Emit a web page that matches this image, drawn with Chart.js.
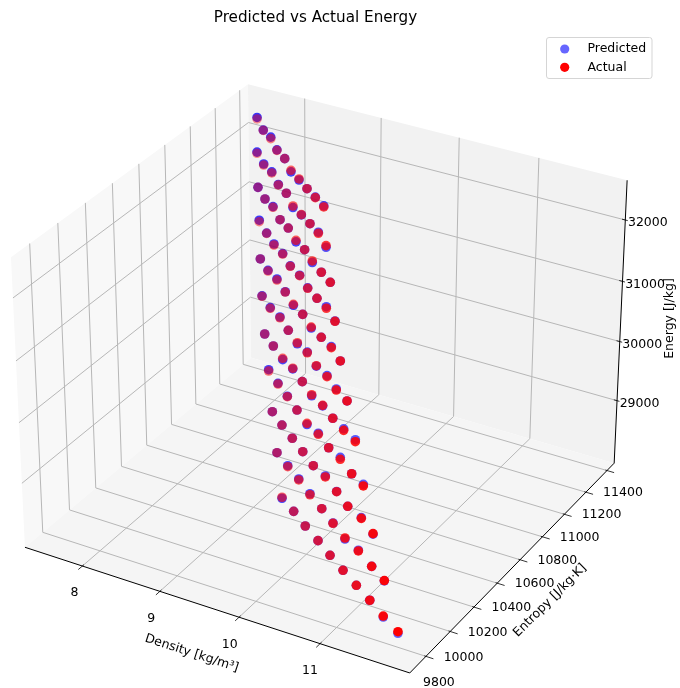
<!DOCTYPE html>
<html>
<head>
<meta charset="utf-8">
<title>Predicted vs Actual Energy</title>
<script src="https://cdn.jsdelivr.net/npm/chart.js@4"></script>
<style>
    html, body { margin: 0; padding: 0; background: #fff; }
    canvas { display: block; }
</style>
</head>
<body>
<canvas id="energyChart" width="680" height="688"></canvas>
<script>
const density = [
    7.557, 7.768, 7.950, 8.160, 8.341, 8.547, 8.731, 8.926, 9.113, 9.304,
    7.709, 7.926, 8.106, 8.321, 8.501, 8.721, 8.906, 9.096, 9.288, 9.505,
    7.867, 8.083, 8.265, 8.486, 8.667, 8.888, 9.082, 9.286, 9.501, 9.699,
    8.027, 8.243, 8.457, 8.650, 8.869, 9.069, 9.291, 9.493, 9.693, 9.919,
    8.194, 8.415, 8.610, 8.832, 9.052, 9.256, 9.481, 9.690, 9.898, 10.126,
    8.366, 8.589, 8.793, 9.018, 9.246, 9.453, 9.682, 9.902, 10.132, 10.347,
    8.547, 8.770, 9.001, 9.210, 9.450, 9.682, 9.900, 10.132, 10.360, 10.585,
    8.735, 8.973, 9.205, 9.444, 9.683, 9.907, 10.146, 10.374, 10.627, 10.857,
    8.932, 9.173, 9.417, 9.661, 9.909, 10.140, 10.397, 10.647, 10.892, 11.149,
    9.138, 9.393, 9.640, 9.902, 10.157, 10.411, 10.669, 10.920, 11.191, 11.441,
    9.358, 9.619, 9.882, 10.153, 10.413, 10.683, 10.952, 11.219, 11.490, 11.768
];
const entropy = [
    11349, 11269, 11217, 11136, 11086, 11007, 10956, 10897, 10845, 10791,
    11252, 11172, 11126, 11045, 10997, 10912, 10863, 10812, 10757, 10680,
    11160, 11083, 11035, 10954, 10907, 10830, 10777, 10709, 10644, 10589,
    11069, 10995, 10921, 10871, 10795, 10744, 10668, 10614, 10561, 10485,
    10972, 10897, 10848, 10776, 10703, 10649, 10575, 10522, 10469, 10394,
    10877, 10805, 10756, 10682, 10611, 10560, 10487, 10432, 10358, 10305,
    10784, 10715, 10646, 10596, 10521, 10449, 10398, 10330, 10270, 10217,
    10697, 10624, 10554, 10481, 10410, 10358, 10288, 10234, 10161, 10104,
    10602, 10529, 10459, 10389, 10316, 10265, 10190, 10117, 10066, 9991,
    10509, 10436, 10369, 10293, 10225, 10152, 10081, 10025, 9954, 9890,
    10410, 10340, 10267, 10197, 10127, 10057, 9989, 9922, 9851, 9784
];
const predictedEnergy = [
    32363, 32343, 32363, 32346, 32338, 32313, 32321, 32338, 32346, 32355,
    31985, 31982, 31982, 31973, 31965, 31940, 31960, 31965, 31982, 31940,
    31595, 31595, 31607, 31595, 31595, 31570, 31595, 31570, 31595, 31595,
    31246, 31226, 31238, 31229, 31229, 31229, 31229, 31221, 31246, 31226,
    30815, 30827, 30832, 30820, 30798, 30815, 30798, 30815, 30832, 30815,
    30417, 30421, 30421, 30409, 30392, 30421, 30401, 30426, 30426, 30409,
    29999, 29999, 29977, 29987, 29999, 29982, 29991, 29999, 30024, 30032,
    29619, 29609, 29605, 29597, 29577, 29614, 29597, 29630, 29597, 29622,
    29154, 29154, 29154, 29154, 29154, 29171, 29159, 29154, 29166, 29146,
    28708, 28725, 28725, 28725, 28708, 28713, 28691, 28720, 28708, 28703,
    28206, 28223, 28223, 28223, 28223, 28223, 28223, 28223, 28206, 28198
];
const actualEnergy = [
    32338, 32338, 32338, 32338, 32338, 32338, 32338, 32338, 32338, 32338,
    31965, 31965, 31965, 31965, 31965, 31965, 31965, 31965, 31965, 31965,
    31595, 31595, 31595, 31595, 31595, 31595, 31595, 31595, 31595, 31595,
    31221, 31221, 31221, 31221, 31221, 31221, 31221, 31221, 31221, 31221,
    30815, 30815, 30815, 30815, 30815, 30815, 30815, 30815, 30815, 30815,
    30409, 30409, 30409, 30409, 30409, 30409, 30409, 30409, 30409, 30409,
    29999, 29999, 29999, 29999, 29999, 29999, 29999, 29999, 29999, 29999,
    29597, 29597, 29597, 29597, 29597, 29597, 29597, 29597, 29597, 29597,
    29154, 29154, 29154, 29154, 29154, 29154, 29154, 29154, 29154, 29154,
    28708, 28708, 28708, 28708, 28708, 28708, 28708, 28708, 28708, 28708,
    28223, 28223, 28223, 28223, 28223, 28223, 28223, 28223, 28223, 28223
];
const densityTicks = [8, 9, 10, 11];
const entropyTicks = [9800, 10000, 10200, 10400, 10600, 10800, 11000, 11200, 11400];
const energyTicks = [29000, 30000, 31000, 32000];

// axis limits of the 3D box
const xLim = [7.245, 12.083];
const yLim = [9669, 11469];
const zLim = [27923, 32638];

// same camera as a default 3D plot: elev 30, azim -60, box 4:4:3, distance 10
const BOX_XY = 1.19048, BOX_Z = 0.89286;
function view(x, y, z) {
    const dx = ((x - xLim[0]) / (xLim[1] - xLim[0]) - 0.5) * BOX_XY;
    const dy = ((y - yLim[0]) / (yLim[1] - yLim[0]) - 0.5) * BOX_XY;
    const dz = ((z - zLim[0]) / (zLim[1] - zLim[0]) - 0.5) * BOX_Z;
    const depth = 0.433013 * dx - 0.75 * dy + 0.5 * dz;
    return {
        x: (0.866025 * dx + 0.5 * dy) / (10 - depth),
        y: (-0.25 * dx + 0.433013 * dy + 0.866025 * dz) / (10 - depth),
        depth: depth
    };
}

const PX = 3703; // pixels per projected unit
const scaleLimits = { xMin: -325 / PX, xMax: 355 / PX, yMin: -323.6 / PX, yMax: 364.4 / PX };

// nearer points are more opaque
const depths = density.map((d, i) => view(d, entropy[i], actualEnergy[i]).depth);
const dMin = Math.min(...depths), dMax = Math.max(...depths);
const nearness = depths.map(d => (d - dMin) / (dMax - dMin));

const axes3d = {
    id: 'axes3d',
    beforeDatasetsDraw(chart) {
        const ctx = chart.ctx;
        const sx = chart.scales.x, sy = chart.scales.y;
        const pt = (x, y, z) => {
            const p = view(x, y, z);
            return [sx.getPixelForValue(p.x), sy.getPixelForValue(p.y)];
        };
        const [x0, x1] = xLim, [y0, y1] = yLim, [z0, z1] = zLim;

        const pane = (color, corners) => {
            ctx.fillStyle = color;
            ctx.beginPath();
            corners.forEach((c, i) => {
                const p = pt(...c);
                i ? ctx.lineTo(p[0], p[1]) : ctx.moveTo(p[0], p[1]);
            });
            ctx.closePath();
            ctx.fill();
        };
        const line = (color, width, points) => {
            ctx.strokeStyle = color;
            ctx.lineWidth = width;
            ctx.beginPath();
            points.forEach((c, i) => {
                const p = pt(...c);
                i ? ctx.lineTo(p[0], p[1]) : ctx.moveTo(p[0], p[1]);
            });
            ctx.stroke();
        };
        const label = (text, x, y, rot) => {
            ctx.save();
            ctx.translate(x, y);
            ctx.rotate((rot || 0) * Math.PI / 180);
            ctx.fillStyle = '#000';
            ctx.font = '12.5px "DejaVu Sans"';
            ctx.textAlign = 'center';
            ctx.textBaseline = 'middle';
            ctx.fillText(text, 0, 0);
            ctx.restore();
        };

        ctx.save();
        pane('#f8f8f8', [[x0, y0, z0], [x0, y0, z1], [x0, y1, z1], [x0, y1, z0]]);
        pane('#f2f2f2', [[x0, y1, z0], [x0, y1, z1], [x1, y1, z1], [x1, y1, z0]]);
        pane('#f5f5f5', [[x0, y0, z0], [x1, y0, z0], [x1, y1, z0], [x0, y1, z0]]);

        const gridColor = '#b7b7b7';
        densityTicks.forEach(t => line(gridColor, 1, [[t, y0, z0], [t, y1, z0], [t, y1, z1]]));
        entropyTicks.forEach(t => line(gridColor, 1, [[x1, t, z0], [x0, t, z0], [x0, t, z1]]));
        energyTicks.forEach(t => line(gridColor, 1, [[x0, y0, t], [x0, y1, t], [x1, y1, t]]));

        line('#000', 1, [[x0, y0, z0], [x1, y0, z0], [x1, y1, z0], [x1, y1, z1]]);

        densityTicks.forEach((t, i) => {
            line('#000', 0.8, [[t, y0 + 12, z0], [t, y0 - 30, z0]]);
            const p = pt(t, y0, z0);
            const f = i / (densityTicks.length - 1);
            label(String(t), p[0] - 8 - 2 * f, p[1] + 27 + 0.4 * f);
        });
        entropyTicks.forEach((t, i) => {
            line('#000', 0.8, [[x1 - 0.02, t, z0], [x1 + 0.09, t, z0]]);
            const p = pt(x1, t, z0);
            const f = i / (entropyTicks.length - 1);
            label(String(t), p[0] + 13 + 3 * f, p[1] + 26.4 - 4.4 * f);
        });
        energyTicks.forEach(t => {
            line('#000', 0.8, [[x1 - 0.04, y1, t], [x1 + 0.03, y1, t]]);
            const p = pt(x1, y1, t);
            label(String(t), p[0] + 22.5, p[1] + 3);
        });

        label('Density [kg/m³]', 191.7, 653.3, 18);
        label('Entropy [J/kg·K]', 550, 600.5, -45);
        label('Energy [J/kg]', 670, 318.5, -90);
        ctx.restore();
    },
    afterDatasetsDraw(chart) {
        const ctx = chart.ctx;
        ctx.save();
        ctx.fillStyle = '#000';
        ctx.textBaseline = 'middle';
        ctx.textAlign = 'center';
        ctx.font = '15.2px "DejaVu Sans"';
        ctx.fillText('Predicted vs Actual Energy', 315.5, 18.5);

        ctx.fillStyle = 'rgba(255,255,255,0.8)';
        ctx.strokeStyle = '#d5d5d5';
        ctx.lineWidth = 1;
        ctx.beginPath();
        ctx.roundRect(546.5, 37.5, 105.5, 41, 2.5);
        ctx.fill();
        ctx.stroke();

        ctx.textAlign = 'left';
        ctx.font = '12.5px "DejaVu Sans"';
        chart.data.datasets.forEach((ds, i) => {
            const y = i === 0 ? 49 : 67.3;
            ctx.fillStyle = i === 0 ? 'rgba(0,0,255,0.6)' : '#f00';
            ctx.beginPath();
            ctx.arc(564.7, y, 4.6, 0, Math.PI * 2);
            ctx.fill();
            ctx.fillStyle = '#000';
            ctx.fillText(ds.label, 587.5, y + 0.2);
        });
        ctx.restore();
    }
};

new Chart(document.getElementById('energyChart').getContext('2d'), {
    type: 'scatter',
    data: {
        datasets: [
            {
                label: 'Predicted',
                data: density.map((d, i) => view(d, entropy[i], predictedEnergy[i])),
                backgroundColor: nearness.map(n => `rgba(0,0,255,${0.78 - 0.18 * n})`),
                pointRadius: 4.8,
                pointBorderWidth: 0,
                order: 2
            },
            {
                label: 'Actual',
                data: density.map((d, i) => view(d, entropy[i], actualEnergy[i])),
                backgroundColor: nearness.map(n => `rgba(255,0,0,${0.4 + 0.6 * n})`),
                pointRadius: 4.8,
                pointBorderWidth: 0,
                order: 1
            }
        ]
    },
    options: {
        responsive: false,
        animation: false,
        events: [],
        layout: { padding: 0, autoPadding: false },
        plugins: {
            legend: { display: false },
            title: { display: false },
            tooltip: { enabled: false }
        },
        scales: {
            x: { type: 'linear', display: false, min: scaleLimits.xMin, max: scaleLimits.xMax },
            y: { type: 'linear', display: false, min: scaleLimits.yMin, max: scaleLimits.yMax }
        }
    },
    plugins: [axes3d]
});
</script>
</body>
</html>
